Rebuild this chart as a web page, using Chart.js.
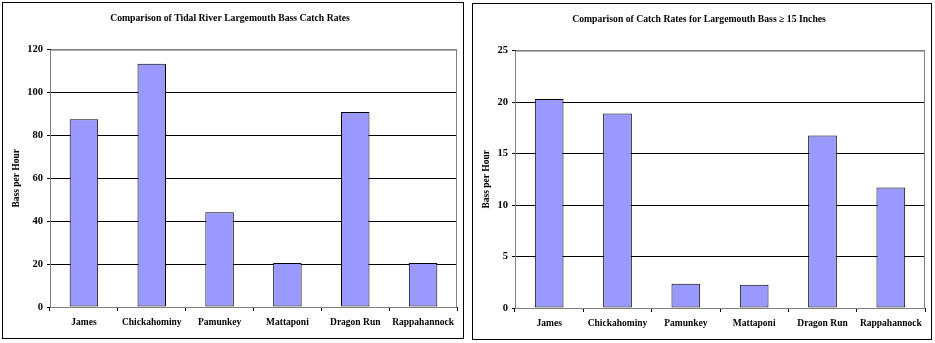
<!DOCTYPE html>
<html>
<head>
<meta charset="utf-8">
<script src="https://cdn.jsdelivr.net/npm/chart.js@4"></script>
<style>
    body { margin: 0; background: #fff; width: 935px; height: 343px; position: relative; overflow: hidden; }
    .panel { position: absolute; border: 1px solid #000; }
    #leftPanel { left: 2px; top: 2px; width: 460px; height: 335px; }
    #rightPanel { left: 472px; top: 3px; width: 458px; height: 335px; }
    canvas { display: block; }
</style>
</head>
<body>
<div class="panel" id="leftPanel"><canvas id="totalChart" width="460" height="335"></canvas></div>
<div class="panel" id="rightPanel"><canvas id="largeChart" width="458" height="335"></canvas></div>
<script>
// ===========================
// Data
// ===========================

const rivers = ['James', 'Chickahominy', 'Pamunkey', 'Mattaponi', 'Dragon Run', 'Rappahannock'];
const totalCatchRates = [87.6, 113.4, 44.2, 20.5, 90.9, 20.5];
const largeCatchRates = [20.3, 18.9, 2.35, 2.25, 16.75, 11.7];
const totalTicks = [0, 20, 40, 60, 80, 100, 120];
const largeTicks = [0, 5, 10, 15, 20, 25];

const FONT = "'Liberation Serif', 'Times New Roman', serif";

// gray frame round the plot area (top and right edges)
const plotFrame = {
    id: 'plotFrame',
    beforeDatasetsDraw(chart) {
        const a = chart.chartArea;
        const c = chart.ctx;
        c.save();
        c.strokeStyle = '#808080';
        c.lineWidth = 1;
        c.strokeRect(a.left + 0.5, a.top + 0.5, a.right - a.left - 1, a.bottom - a.top);
        c.restore();
    }
};

function makeChart(id, title, values, ticks, axisWidth, rightPad) {
    const maxVal = ticks[ticks.length - 1];
    return new Chart(document.getElementById(id), {
        type: 'bar',
        data: {
            labels: rivers,
            datasets: [{
                data: values,
                backgroundColor: '#9999FF',
                borderColor: '#000',
                borderWidth: 1,
                borderSkipped: false,
                categoryPercentage: 1,
                barPercentage: 0.42
            }]
        },
        options: {
            responsive: false,
            animation: false,
            layout: { padding: { left: 0, right: rightPad, top: 0, bottom: 0 } },
            plugins: {
                legend: { display: false },
                tooltip: { enabled: false },
                title: {
                    display: true,
                    text: title,
                    color: '#000',
                    font: { family: FONT, size: 9.7, weight: 'bold', lineHeight: 1.2 },
                    padding: { top: 10, bottom: 25 }
                }
            },
            scales: {
                x: {
                    afterFit(scale) { scale.height = 31; },
                    grid: {
                        display: true,
                        offset: true,
                        drawOnChartArea: false,
                        drawTicks: true,
                        tickLength: 4,
                        color: '#000'
                    },
                    border: { display: true, color: '#000' },
                    ticks: {
                        color: '#000',
                        padding: 6,
                        maxRotation: 0,
                        autoSkip: false,
                        font: { family: FONT, size: 9.5, weight: 'bold' }
                    }
                },
                y: {
                    min: 0,
                    max: maxVal,
                    afterFit(scale) { scale.width = axisWidth; },
                    afterBuildTicks(scale) { scale.ticks = ticks.map(v => ({ value: v })); },
                    grid: {
                        color: ctx => (ctx.tick && ctx.tick.value === maxVal) ? '#808080' : '#000',
                        tickColor: '#000',
                        tickLength: 3,
                        lineWidth: 1
                    },
                    border: { display: true, color: '#000' },
                    ticks: {
                        color: '#000',
                        padding: 4,
                        font: { family: FONT, size: 10.5, weight: 'bold' }
                    },
                    title: {
                        display: true,
                        text: 'Bass per Hour',
                        color: '#000',
                        font: { family: FONT, size: 9.5, weight: 'bold', lineHeight: 1.2 },
                        padding: { top: 8, bottom: 0 }
                    }
                }
            }
        },
        plugins: [plotFrame]
    });
}

makeChart('totalChart', 'Comparison of Tidal River Largemouth Bass Catch Rates', totalCatchRates, totalTicks, 47, 6);
makeChart('largeChart', 'Comparison of Catch Rates for Largemouth Bass \u2265 15 Inches', largeCatchRates, largeTicks, 42, 6);
</script>
</body>
</html>
